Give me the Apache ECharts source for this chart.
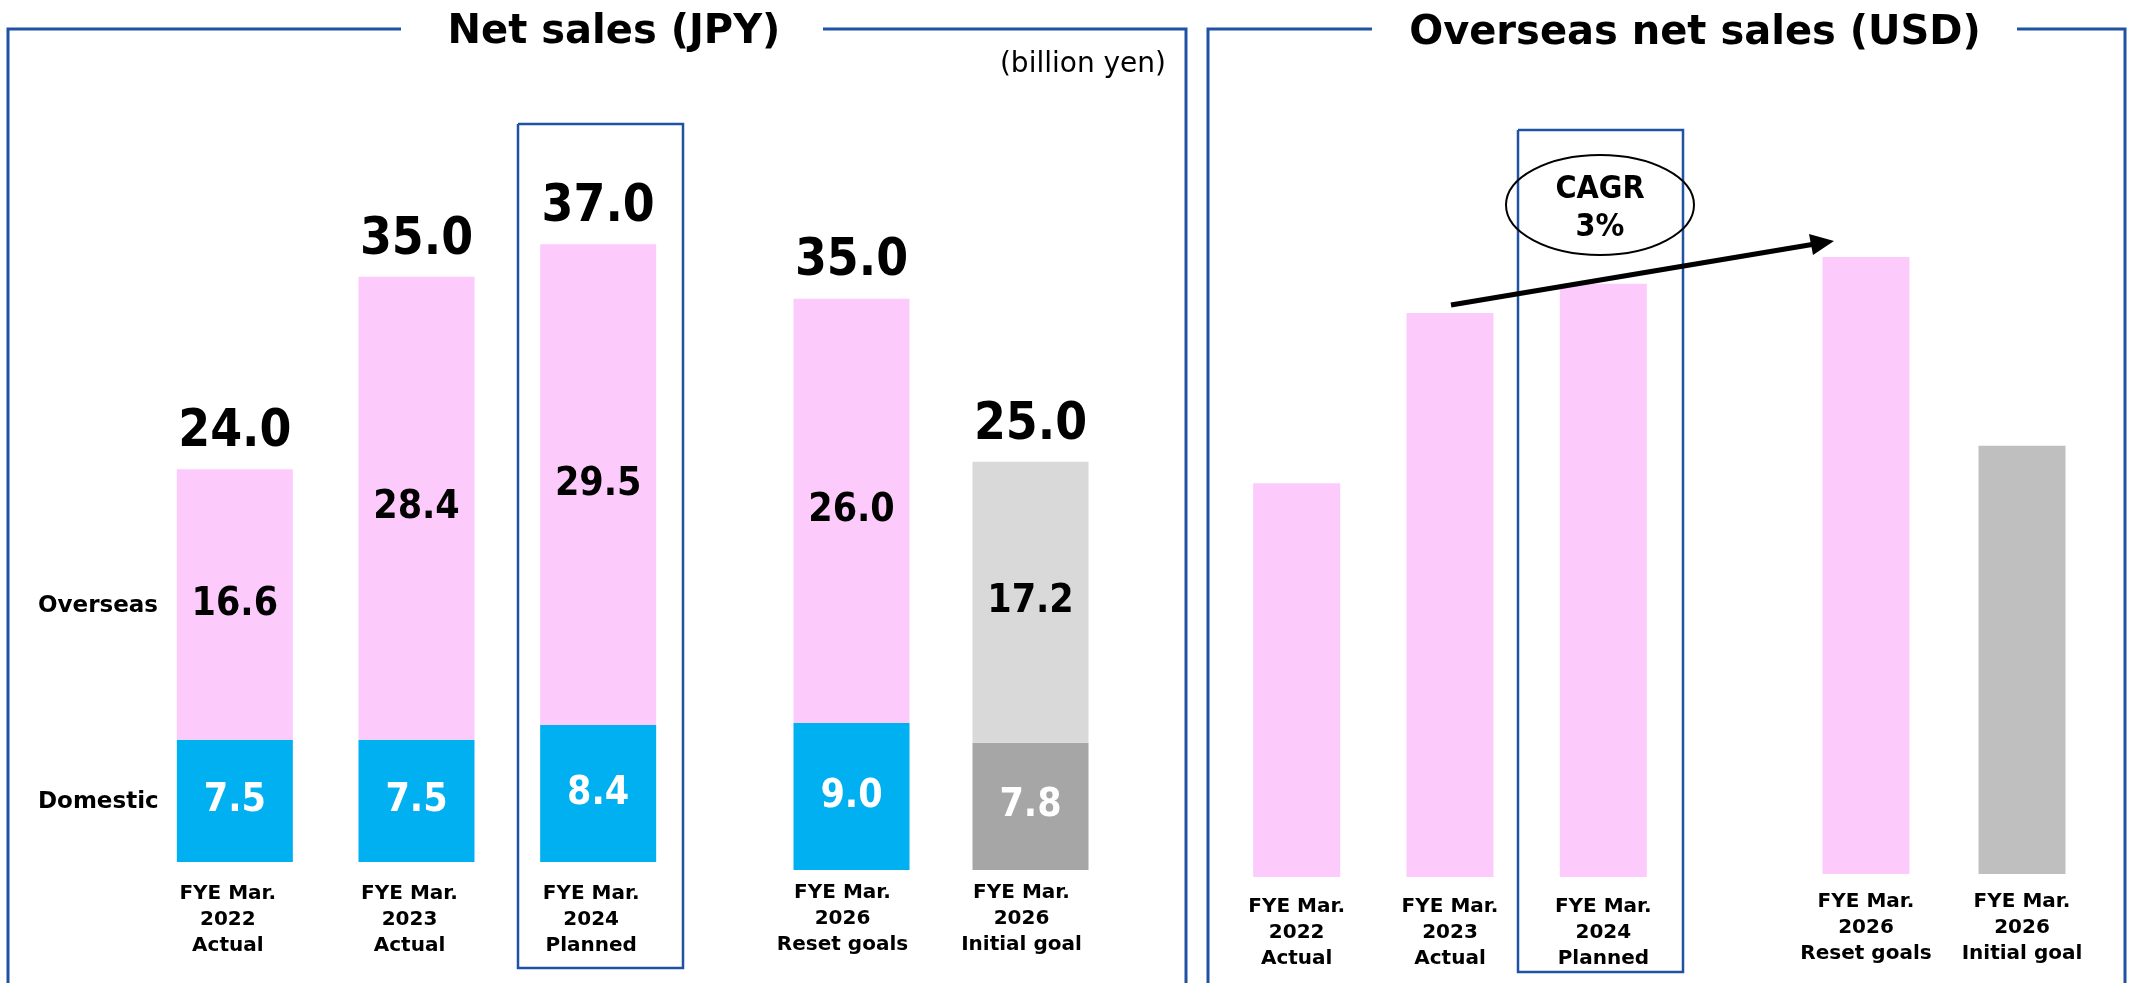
<!DOCTYPE html>
<html lang="en">
<head>
  <meta charset="UTF-8">
  <title>Net sales</title>
  <script src="https://cdn.jsdelivr.net/npm/echarts@6/dist/echarts.min.js"></script>
  <style>
    * { margin: 0; padding: 0; }
    html, body { width: 100%; height: 100%; background: #fff; }
    #chart { width: 2129px; height: 983px; }
  </style>
</head>
<body>
<div id="chart"></div>
<script>
  // categories (same for both panels)
  var categories = [
    'FYE Mar.\n2022\nActual',
    'FYE Mar.\n2023\nActual',
    'FYE Mar.\n2024\nPlanned',
    'FYE Mar.\n2026\nReset goals',
    'FYE Mar.\n2026\nInitial goal'
  ];
  // net sales, billion yen
  var domestic = [7.5, 7.5, 8.4, 9.0, 7.8];
  var overseas = [16.6, 28.4, 29.5, 26.0, 17.2];
  var totals = [24.0, 35.0, 37.0, 35.0, 25.0];
  // overseas net sales in USD (no scale on the picture)
  var overseasUsd = [148, 212, 223, 232, 161];

  var FONT_C = '"DejaVu Sans Condensed", "DejaVu Sans", sans-serif';
  var FONT = '"DejaVu Sans", sans-serif';
  var FRAME = '#2052a3';
  var domColors = ['#00b0f0', '#00b0f0', '#00b0f0', '#00b0f0', '#a6a6a6'];
  var ovsColors = ['#fccbfc', '#fccbfc', '#fccbfc', '#fccbfc', '#d9d9d9'];
  var usdColors = ['#fccbfc', '#fccbfc', '#fccbfc', '#fccbfc', '#bfbfbf'];

  var myChart = echarts.init(document.getElementById('chart'));

  function xAx(gi, cats, margin, shift) {
    return {
      type: 'category', gridIndex: gi, data: cats,
      axisLine: { show: false }, axisTick: { show: false },
      axisLabel: {
        margin: margin, color: '#000', fontFamily: FONT, fontWeight: 'bold',
        fontSize: 20, lineHeight: 26, interval: 0,
        padding: [0, shift || 0, 0, 0]
      }
    };
  }
  function yAx(gi, max) {
    return { type: 'value', gridIndex: gi, min: 0, max: max, show: false, splitLine: { show: false } };
  }
  function colorOf(arr, off) {
    return function (p) { return arr[p.dataIndex + off]; };
  }
  function numLabel(color, size) {
    return {
      show: true, position: 'inside', color: color, fontFamily: FONT_C,
      fontWeight: 'bold', fontSize: size,
      formatter: function (p) { return p.value.toFixed(1); }
    };
  }

  // left panel: stacked domestic / overseas + total label
  function leftSeries(gi, from, to) {
    return [
      {
        type: 'bar', xAxisIndex: gi, yAxisIndex: gi, stack: 's' + gi, barWidth: 116,
        data: domestic.slice(from, to),
        itemStyle: { color: colorOf(domColors, from) },
        label: numLabel('#fff', 39)
      },
      {
        type: 'bar', xAxisIndex: gi, yAxisIndex: gi, stack: 's' + gi, barWidth: 116,
        data: overseas.slice(from, to),
        itemStyle: { color: colorOf(ovsColors, from) },
        label: numLabel('#000', 39)
      },
      {
        type: 'bar', xAxisIndex: gi, yAxisIndex: gi, stack: 's' + gi, barWidth: 116,
        data: totals.slice(from, to).map(function () { return 0; }),
        itemStyle: { color: 'transparent' },
        label: {
          show: true, position: 'top', distance: 11, color: '#000', fontFamily: FONT_C,
          fontWeight: 'bold', fontSize: 51,
          formatter: function (p) { return totals[p.dataIndex + from].toFixed(1); }
        }
      }
    ];
  }
  function rightSeries(gi, from, to) {
    return {
      type: 'bar', xAxisIndex: gi, yAxisIndex: gi, barWidth: 87,
      data: overseasUsd.slice(from, to),
      itemStyle: { color: colorOf(usdColors, from) }
    };
  }

  function txt(x, y, text, size, weight, align, family) {
    return {
      type: 'text', x: x, y: y, z: 10,
      style: {
        text: text, fill: '#000', font: weight + ' ' + size + 'px ' + (family || FONT),
        textAlign: align || 'center', textVerticalAlign: 'middle',
        align: align || 'center', verticalAlign: 'middle'
      }
    };
  }
  function line(points, w) {
    return { type: 'polyline', z: 5, shape: { points: points }, style: { stroke: FRAME, lineWidth: w, fill: null } };
  }

  var option = {
    animation: false,
    grid: [
      { left: 144, width: 545, top: 210, bottom: 121 },
      { left: 762, width: 358, top: 217, bottom: 113 },
      { left: 1220, width: 460, top: 79, bottom: 106 },
      { left: 1788, width: 312, top: 76, bottom: 109 }
    ],
    xAxis: [
      xAx(0, categories.slice(0, 3), 19, 14),
      xAx(1, categories.slice(3), 10, 18),
      xAx(2, categories.slice(0, 3), 17),
      xAx(3, categories.slice(3), 15)
    ],
    yAxis: [yAx(0, 40), yAx(1, 40), yAx(2, 300), yAx(3, 300)],
    series: [].concat(
      leftSeries(0, 0, 3),
      leftSeries(1, 3, 5),
      [rightSeries(2, 0, 3), rightSeries(3, 3, 5)]
    ),
    graphic: [
      // panel frames
      line([[401, 29], [8, 29], [8, 990]], 3),
      line([[823, 29], [1186, 29], [1186, 990]], 3),
      line([[1372, 29], [1208, 29], [1208, 990]], 3),
      line([[2017, 29], [2125, 29], [2125, 990]], 3),
      // highlight boxes
      line([[518, 124], [683, 124], [683, 968], [518, 968], [518, 124]], 2.5),
      line([[1518, 130], [1683, 130], [1683, 972], [1518, 972], [1518, 130]], 2.5),
      // titles
      txt(614, 33, 'Net sales (JPY)', 40, 'bold'),
      txt(1695, 34, 'Overseas net sales (USD)', 40, 'bold'),
      txt(1166, 65, '(billion yen)', 28, 'normal', 'right'),
      txt(38, 606, 'Overseas', 23, 'bold', 'left'),
      txt(38, 802, 'Domestic', 23, 'bold', 'left'),
      // CAGR bubble and arrow
      {
        type: 'ellipse', z: 10, shape: { cx: 1600, cy: 205, rx: 94, ry: 50 },
        style: { stroke: '#000', lineWidth: 2, fill: null }
      },
      txt(1600, 190, 'CAGR', 32, 'bold', 'center', FONT_C),
      txt(1600, 228, '3%', 32, 'bold', 'center', FONT_C),
      {
        type: 'line', z: 10, shape: { x1: 1451, y1: 305, x2: 1815, y2: 244 },
        style: { stroke: '#000', lineWidth: 5 }
      },
      {
        type: 'polygon', z: 10, shape: { points: [[1834, 241], [1813, 255], [1809, 234]] },
        style: { fill: '#000' }
      }
    ]
  };

  myChart.setOption(option);
</script>
</body>
</html>
